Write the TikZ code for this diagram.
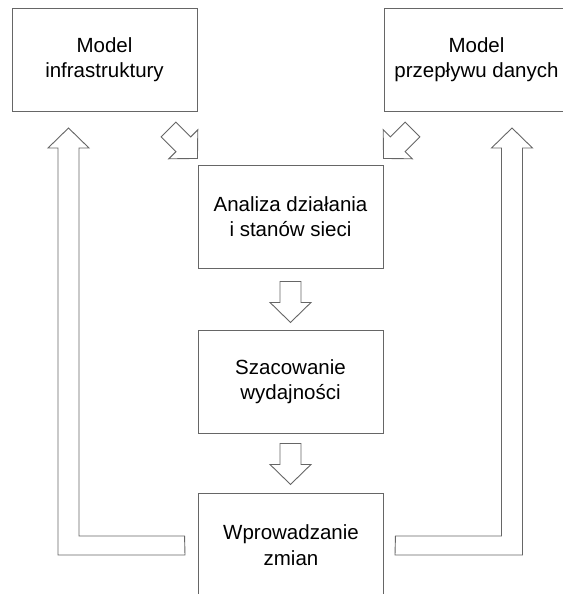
\documentclass[tikz,border=0pt]{standalone}
\usepackage{fontspec}
\setmainfont{Liberation Sans}
\begin{document}
\begin{tikzpicture}[x=1pt,y=-1pt,line width=0.9pt,
box/.style={draw=black!60,rectangle,minimum width=185pt,minimum height=103pt,inner sep=0pt,align=center,font=\fontsize{20.5}{25.5}\selectfont},
blk/.style={draw=black!60,fill=white,line join=miter},
blkdown/.pic={\draw[blk] (0,0) -- (-20.5,-20) -- (-10.5,-20) -- (-10.5,-41) -- (10.5,-41) -- (10.5,-20) -- (20.5,-20) -- cycle;}]
\useasboundingbox (0,0) rectangle (562,594);
\draw (104.5,59.5) node[box] (infra) {Model\\infrastruktury};
\draw (476.5,59.5) node[box] (flow) {Model\\przepływu danych};
\draw (290.5,216.5) node[box] (anal) {Analiza działania\\i stanów sieci};
\draw (290.5,381.5) node[box] (est) {Szacowanie\\wydajności};
\draw (291,545) node[box] (chg) {Wprowadzanie\\zmian};

\path (infra.south east) ++(0,47) pic[rotate=45] {blkdown};
\path (flow.south west) ++(0,47) pic[rotate=-45] {blkdown};
\path (anal.south) ++(0,54) pic {blkdown};
\path (est.south) ++(0,51) pic {blkdown};

\draw[blk] (chg.west) ++(-13.5,-9) -- (79,536) -- (79,148) -- (89,148) -- (68.5,128) -- (48,148) -- (58,148) -- (58,555) -- (185,555) -- cycle;
\draw[blk] (chg.east) ++(11.5,-9) -- (501.5,536) -- (501.5,148) -- (491.5,148) -- (512,128) -- (532.5,148) -- (522.5,148) -- (522.5,555) -- (395,555) -- cycle;
\end{tikzpicture}
\end{document}
